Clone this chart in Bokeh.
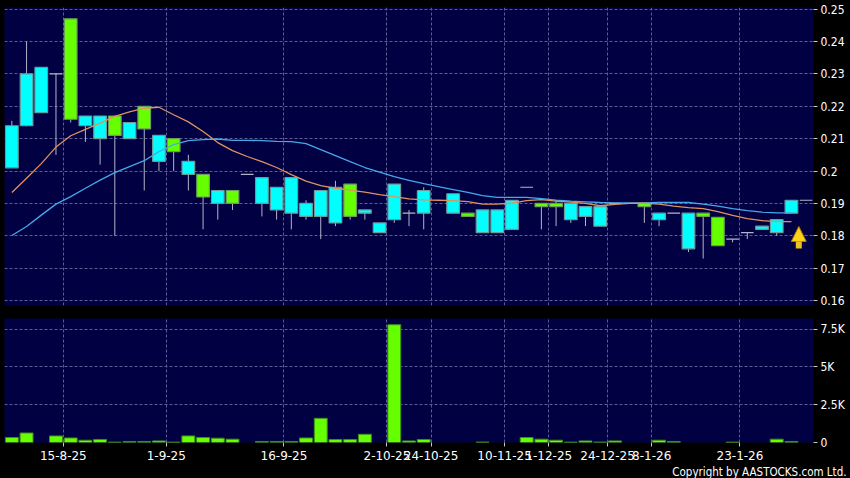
from bokeh.plotting import figure
from bokeh.layouts import column
from bokeh.models import (Range1d, FixedTicker, ColumnDataSource, Title, Arrow,
                          NormalHead, GlobalInlineStyleSheet)
from bokeh.embed import file_html
from bokeh.resources import INLINE

# ---------------- data (one slot per trading session shown) ----------------
slot = list(range(55))
open_ = [0.201, 0.214, 0.218, 0.230, 0.247, 0.214, 0.210, 0.217, 0.210, 0.220,
         0.203, 0.210, 0.199, 0.199, 0.190, 0.194, 0.199, 0.190, 0.188, 0.187,
         0.186, 0.186, 0.184, 0.196, 0.187, 0.181, 0.185, 0.187, 0.187, None,
         0.187, 0.187, 0.181, 0.181, 0.182, 0.195, 0.190, 0.190, 0.185, 0.186,
         0.183, 0.190, None, 0.190, 0.185, 0.187, 0.176, 0.187, 0.1857, 0.179,
         0.181, 0.182, 0.181, 0.187, 0.191]
high = [0.2155, 0.240, 0.232, 0.230, 0.247, 0.217, 0.217, 0.217, 0.215, 0.220,
        0.211, 0.210, 0.205, 0.199, 0.194, 0.194, 0.199, 0.198, 0.195, 0.198,
        0.191, 0.194, 0.197, 0.196, 0.188, 0.184, 0.196, 0.188, 0.195, None,
        0.193, 0.187, 0.188, 0.188, 0.191, 0.195, 0.190, 0.191, 0.190, 0.189,
        0.189, 0.190, None, 0.190, 0.187, 0.187, 0.187, 0.187, 0.1857, 0.179,
        0.181, 0.183, 0.185, 0.191, 0.191]
low = [0.201, 0.2138, 0.218, 0.205, 0.215, 0.209, 0.202, 0.180, 0.210, 0.194,
       0.200, 0.200, 0.194, 0.182, 0.185, 0.188, 0.199, 0.186, 0.185, 0.182,
       0.185, 0.179, 0.183, 0.185, 0.185, 0.181, 0.184, 0.183, 0.182, None,
       0.187, 0.186, 0.181, 0.181, 0.182, 0.195, 0.182, 0.183, 0.184, 0.183,
       0.183, 0.190, None, 0.184, 0.183, 0.187, 0.175, 0.173, 0.177, 0.178,
       0.179, 0.182, 0.180, 0.187, 0.191]
close = [0.214, 0.230, 0.232, 0.230, 0.216, 0.217, 0.217, 0.211, 0.215, 0.213,
         0.211, 0.206, 0.203, 0.192, 0.194, 0.190, 0.199, 0.198, 0.195, 0.198,
         0.190, 0.194, 0.195, 0.186, 0.188, 0.184, 0.196, 0.187, 0.194, None,
         0.193, 0.186, 0.188, 0.188, 0.191, 0.195, 0.189, 0.189, 0.190, 0.189,
         0.189, 0.190, None, 0.189, 0.187, 0.187, 0.187, 0.186, 0.177, 0.179,
         0.181, 0.183, 0.185, 0.191, 0.191]
volume = [330, 630, 0, 435, 300, 150, 200, 25, 70, 70,
          105, 25, 435, 330, 285, 220, 0, 70, 70, 70,
          300, 1600, 200, 200, 545, 0, 7790, 105, 200, 0,
          0, 0, 30, 0, 0, 330, 220, 150, 25, 105,
          30, 105, 0, 0, 150, 70, 0, 0, 0, 25,
          0, 0, 220, 70, 0]
ma10 = [0.1934, 0.1978, 0.2023, 0.2074, 0.2109, 0.2129, 0.2148, 0.2169, 0.2183, 0.2194,
        0.2197, 0.2174, 0.2152, 0.2122, 0.2088, 0.2063, 0.2045, 0.2029, 0.2011, 0.1989,
        0.1969, 0.1955, 0.1947, 0.1941, 0.1935, 0.1927, 0.1921, 0.1914, 0.1911, 0.1910,
        0.1909, 0.1906, 0.1898, 0.1898, 0.1901, 0.1909, 0.1912, 0.1907, 0.1904, 0.1900,
        0.1893, 0.1897, 0.1900, 0.1901, 0.1898, 0.1892, 0.1887, 0.1884, 0.1875, 0.1863,
        0.1853, 0.1847, 0.1844, 0.1844]
ma20 = [0.1801, 0.1829, 0.1864, 0.1898, 0.1921, 0.1947, 0.1972, 0.1995, 0.2014, 0.2032,
        0.2060, 0.2082, 0.2094, 0.2097, 0.2099, 0.2095, 0.2095, 0.2094, 0.2092, 0.2091,
        0.2085, 0.2066, 0.2048, 0.2029, 0.2011, 0.1997, 0.1983, 0.1971, 0.1961, 0.1952,
        0.1943, 0.1934, 0.1924, 0.1919, 0.1919, 0.1919, 0.1915, 0.1910, 0.1907, 0.1905,
        0.1903, 0.1902, 0.1902, 0.1902, 0.1903, 0.1903, 0.1903, 0.1898, 0.1892, 0.1884,
        0.1878, 0.1873, 0.1871, 0.1871]
x_tick_pos = [3.5, 10.5, 18.5, 25.5, 28.5, 33.5, 36.5, 40.5, 43.5, 49.5]
x_tick_labels = ["15-8-25", "1-9-25", "16-9-25", "2-10-25", "24-10-25",
                 "10-11-25", "1-12-25", "24-12-25", "8-1-26", "23-1-26"]
price_ticks = [0.16, 0.17, 0.18, 0.19, 0.20, 0.21, 0.22, 0.23, 0.24, 0.25]
price_labels = ["0.16", "0.17", "0.18", "0.19", "0.2", "0.21", "0.22", "0.23", "0.24", "0.25"]
vol_ticks = [0, 2500, 5000, 7500]
vol_labels = ["0", "2.5K", "5K", "7.5K"]
arrow_price = [0.1761, 0.1829]

# ---------------- styles ----------------
W = 850
BG = "#000042"
GRID = "#5c5c94"
UP = "#00ffff"
DOWN = "#66ff00"
WICK = "#b4b4c8"
BODY_W = 0.86
YFONT = "DejaVu Sans Condensed"
XFONT = "DejaVu Sans"

# ---------------- split candles ----------------
up = dict(x=[], top=[], bottom=[])
dn = dict(x=[], top=[], bottom=[])
dj = dict(x0=[], x1=[], y=[])
wk = dict(x=[], y0=[], y1=[])
for i, o, h, l, c in zip(slot, open_, high, low, close):
    if o is None:
        continue
    if h > l:
        wk["x"].append(i); wk["y0"].append(l); wk["y1"].append(h)
    if c > o:
        up["x"].append(i); up["top"].append(c); up["bottom"].append(o)
    elif c < o:
        dn["x"].append(i); dn["top"].append(o); dn["bottom"].append(c)
    else:
        dj["x0"].append(i - BODY_W / 2); dj["x1"].append(i + BODY_W / 2); dj["y"].append(c)

vol = dict(x=[i for i, v in zip(slot, volume) if v > 0],
           top=[v for v in volume if v > 0])

xr = Range1d(-0.5, len(slot) - 0.5)

# ---------------- price panel ----------------
p1 = figure(width=W, height=311, x_range=xr, y_range=Range1d(0.1585, 0.2505),
            output_backend="svg", toolbar_location=None, x_axis_location=None,
            y_axis_location="right", min_border_left=4, min_border_right=37,
            min_border_top=7, min_border_bottom=6)
p1.background_fill_color = BG
p1.border_fill_color = "black"
p1.outline_line_color = None

p1.segment(x0="x", y0="y0", x1="x", y1="y1", source=ColumnDataSource(wk),
           line_color=WICK, line_width=1)
p1.vbar(x="x", top="top", bottom="bottom", width=BODY_W, source=ColumnDataSource(up),
        fill_color=UP, line_color="#6a9c9c", line_width=1.2)
p1.vbar(x="x", top="top", bottom="bottom", width=BODY_W, source=ColumnDataSource(dn),
        fill_color=DOWN, line_color="#6a9c5a", line_width=1.2)
p1.segment(x0="x0", y0="y", x1="x1", y1="y", source=ColumnDataSource(dj),
           line_color=WICK, line_width=1.2)
p1.line(slot[:len(ma20)], ma20, line_color="#45a8ea", line_width=1.3)
p1.line(slot[:len(ma10)], ma10, line_color="#e0925e", line_width=1.3)

p1.add_layout(Arrow(end=NormalHead(size=15, fill_color="#ffd21a", line_color="#b07a00",
                                   line_width=1),
                    x_start=slot[-1] - 0.5, y_start=arrow_price[0],
                    x_end=slot[-1] - 0.5, y_end=arrow_price[1],
                    line_color="#f0c020", line_width=6))

p1.yaxis.ticker = FixedTicker(ticks=price_ticks)
p1.yaxis.major_label_overrides = dict(zip(price_ticks, price_labels))
p1.xgrid.ticker = FixedTicker(ticks=x_tick_pos)

# ---------------- volume panel ----------------
p2 = figure(width=W, height=167, x_range=xr, y_range=Range1d(0, 8200),
            output_backend="svg", toolbar_location=None,
            y_axis_location="right", min_border_left=4, min_border_right=37,
            min_border_top=7, min_border_bottom=35)
p2.background_fill_color = BG
p2.border_fill_color = "black"
p2.outline_line_color = None
p2.vbar(x="x", top="top", bottom=0, width=0.88, source=ColumnDataSource(vol),
        fill_color=DOWN, line_color="#3f8a18", line_width=1)

p2.yaxis.ticker = FixedTicker(ticks=vol_ticks)
p2.yaxis.major_label_overrides = dict(zip(vol_ticks, vol_labels))
p2.xaxis.ticker = FixedTicker(ticks=x_tick_pos)
p2.xaxis.major_label_overrides = dict(zip(x_tick_pos, x_tick_labels))

p2.add_layout(Title(text="Copyright by AASTOCKS.com Ltd.", align="right",
                    text_color="white", text_font=YFONT, text_font_size="11.5px",
                    text_font_style="normal", standoff=0, offset=-33), "below")

for p in (p1, p2):
    for g in (p.xgrid, p.ygrid):
        g.grid_line_color = GRID
        g.grid_line_dash = "3 2"
        g.grid_line_width = 1
    for ax in p.yaxis:
        ax.axis_line_color = None
        ax.major_tick_line_color = "#c8c8c8"
        ax.major_tick_out = 4
        ax.major_tick_in = 0
        ax.minor_tick_line_color = None
        ax.major_label_standoff = 3
        ax.major_label_text_color = "white"
        ax.major_label_text_font = YFONT
        ax.major_label_text_font_size = "12px"

for ax in p2.xaxis:
    ax.axis_line_color = None
    ax.major_tick_line_color = "#c8c8c8"
    ax.major_tick_out = 4
    ax.major_tick_in = 0
    ax.minor_tick_line_color = None
    ax.major_label_standoff = 4
    ax.major_label_text_color = "white"
    ax.major_label_text_font = XFONT
    ax.major_label_text_font_size = "12px"

layout = column(p1, p2, spacing=0,
                stylesheets=[GlobalInlineStyleSheet(css="html, body { background-color: #000; }")])

open("out.html", "w").write(file_html(layout, INLINE))
